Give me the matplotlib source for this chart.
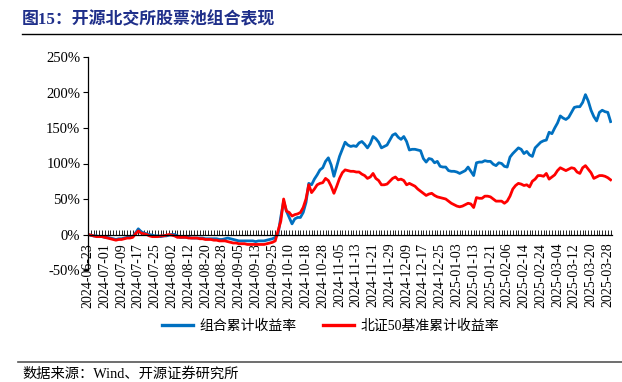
import matplotlib

matplotlib.use("Agg")
import matplotlib.pyplot as plt  # noqa: E402
from matplotlib.lines import Line2D  # noqa: E402
from matplotlib.ticker import FuncFormatter  # noqa: E402

plt.rcParams["font.family"] = ["Liberation Serif", "Noto Sans CJK SC", "DejaVu Sans"]

TITLE = "图15：开源北交所股票池组合表现"
SOURCE = "数据来源：Wind、开源证券研究所"
SERIES_NAMES = ["组合累计收益率", "北证50基准累计收益率"]

# one tick label every 6 trading days
TICK_LABELS = [
    "2024-06-23", "2024-07-01", "2024-07-09", "2024-07-17", "2024-07-25",
    "2024-08-02", "2024-08-12", "2024-08-20", "2024-08-28", "2024-09-05",
    "2024-09-13", "2024-09-25", "2024-10-10", "2024-10-18", "2024-10-28",
    "2024-11-05", "2024-11-13", "2024-11-21", "2024-11-29", "2024-12-09",
    "2024-12-17", "2024-12-25", "2025-01-03", "2025-01-13", "2025-01-21",
    "2025-02-06", "2025-02-14", "2025-02-24", "2025-03-04", "2025-03-12",
    "2025-03-20", "2025-03-28",
]
TICK_STEP = 6

# cumulative return, % (one value per trading day)
portfolio = [
    0, -1, -2, -2, -3, -3, -4, -4, -5, -6,
    -7, -6, -6, -5, -4, -4, -3, 2, 8, 4,
    2, 1, 0, -1, -2, -2, -3, -2, -2, -1,
    0, 0, -2, -4, -4, -4, -4, -5, -5, -5,
    -5, -5, -6, -6, -6, -6, -6, -7, -7, -6,
    -5, -6, -7, -8, -9, -9, -9, -9, -9, -9,
    -10, -9, -9, -9, -8, -7, -6, -4, 0, 25,
    47, 33, 24, 15, 22, 24, 24, 31, 45, 72,
    70, 78, 84, 91, 94, 103, 108, 98, 82, 96,
    110, 120, 130, 126, 124, 125, 124, 129, 131, 127,
    122, 128, 138, 135, 130, 122, 124, 126, 133, 140,
    142, 137, 134, 138, 131, 119, 120, 120, 119, 118,
    107, 102, 107, 106, 101, 103, 96, 95, 95, 90,
    89, 89, 88, 86, 88, 90, 95, 89, 83, 101,
    102, 102, 104, 103, 103, 99, 97, 101, 100, 96,
    95, 109, 114, 118, 122, 120, 114, 117, 112, 110,
    122, 126, 130, 132, 133, 144, 142, 150, 157, 167,
    164, 162, 165, 172, 179, 180, 180, 186, 197, 188,
    175, 166, 160, 172, 175, 173, 172, 159,
]
benchmark = [
    0, -1, -2, -3, -3, -3, -4, -5, -6, -7,
    -8, -7, -7, -6, -5, -5, -4, 1, 5, 2,
    1, 0, -2, -3, -3, -3, -2, -2, -1, 0,
    -1, -2, -4, -4, -4, -4, -5, -5, -5, -5,
    -6, -6, -7, -7, -7, -8, -8, -9, -9, -9,
    -10, -11, -12, -12, -13, -13, -13, -14, -14, -14,
    -14, -14, -14, -14, -13, -12, -11, -9, 5, 19,
    50, 33, 31, 26, 28, 29, 31, 38, 50, 70,
    59, 64, 70, 72, 73, 79, 76, 68, 58, 68,
    79, 87, 91, 90, 89, 89, 88, 88, 85, 83,
    79, 81, 86, 79, 76, 70, 70, 71, 75, 79,
    81, 77, 78, 76, 70, 72, 70, 68, 64, 61,
    58, 55, 57, 58, 55, 53, 52, 51, 50, 47,
    44, 42, 40, 39, 40, 42, 44, 43, 38, 52,
    51, 51, 54, 54, 53, 50, 47, 47, 47, 44,
    47, 54, 64, 69, 72, 71, 69, 70, 67, 75,
    78, 83, 83, 82, 86, 78, 81, 84, 90, 94,
    92, 90, 92, 94, 93, 88, 86, 94, 97, 92,
    87, 79, 81, 83, 83, 82, 80, 77,
]

BLUE = "#0070C0"
RED = "#FF0000"
NAVY = "#1F2F8A"

fig = plt.figure(figsize=(6.22, 3.82), dpi=100)
ax = fig.add_axes([88 / 622, 1 - 270 / 382, 524 / 622, 213 / 382])

x = range(len(portfolio))
ax.plot(x, portfolio, color=BLUE, lw=2.0, solid_joinstyle="round")
ax.plot(x, benchmark, color=RED, lw=2.0, solid_joinstyle="round")

ax.set_xlim(0, len(portfolio) - 0.5)
ax.set_ylim(-50, 250)
ax.set_yticks(range(-50, 251, 50))
ax.yaxis.set_major_formatter(FuncFormatter(lambda v, _: f"{v:.0f}%"))

for side in ("top", "right"):
    ax.spines[side].set_visible(False)
ax.spines["bottom"].set_position(("data", 0))
ax.spines["bottom"].set_linewidth(0.9)
ax.spines["left"].set_linewidth(0.9)

ax.set_xticks(range(0, len(portfolio), TICK_STEP))
ax.set_xticklabels(TICK_LABELS, rotation=90)
ax.set_xticks(range(len(portfolio)), minor=True)
ax.tick_params(axis="x", which="both", direction="in", length=3.5, width=0.6,
               labelsize=10, pad=6)
ax.tick_params(axis="y", direction="out", length=3.5, width=0.8, labelsize=10.5, pad=2)

handles = [Line2D([], [], color=c, lw=2.4) for c in (BLUE, RED)]
fig.legend(handles, SERIES_NAMES, loc="center", bbox_to_anchor=(331 / 622, 1 - 326 / 382),
           ncol=2, frameon=False, fontsize=10, handlelength=2.2, columnspacing=1.9,
           handletextpad=0.5)

fig.text(22 / 622, 1 - 20 / 382, TITLE, fontsize=12.2, fontweight="bold", color=NAVY,
         va="center", ha="left")
fig.add_artist(Line2D([22 / 622, 1], [1 - 34 / 382] * 2, color="black", lw=1.0))
fig.add_artist(Line2D([18 / 622, 1], [1 - 362 / 382] * 2, color="#555555", lw=1.2))
fig.text(22 / 622, 1 - 374 / 382, SOURCE, fontsize=10.3, va="center", ha="left")

fig.savefig("out.png", dpi=100)
